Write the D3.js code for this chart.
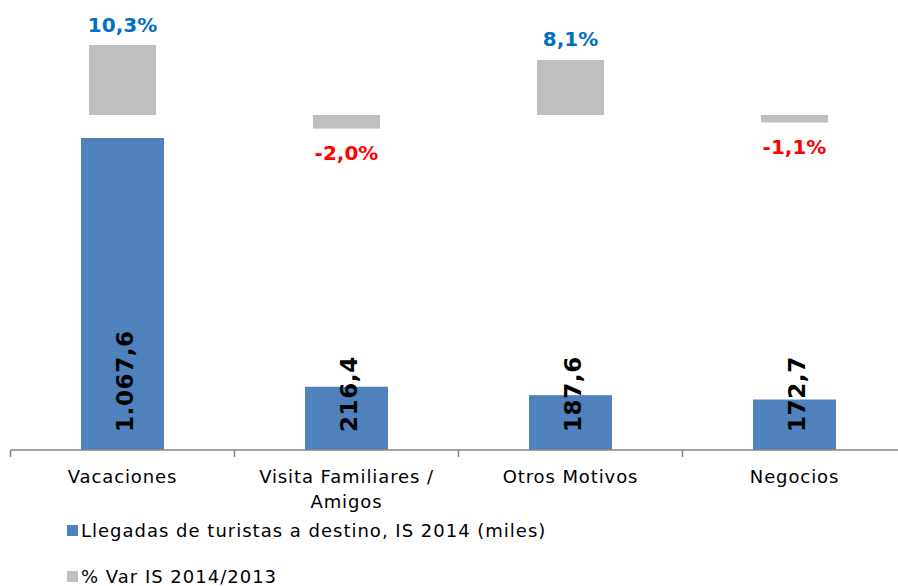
<!DOCTYPE html>
<html>
<head>
<meta charset="utf-8">
<script src="https://cdn.jsdelivr.net/npm/d3@7"></script>
<style>
  body { margin: 0; background: #fff; }
  text { font-family: Verdana, "DejaVu Sans", sans-serif; }
</style>
</head>
<body>
<script>
var categories = ["Vacaciones", "Visita Familiares / Amigos", "Otros Motivos", "Negocios"];
var categoryLines = [["Vacaciones"], ["Visita Familiares /", "Amigos"], ["Otros Motivos"], ["Negocios"]];
var arrivals = [1067.6, 216.4, 187.6, 172.7];
var arrivalLabels = ["1.067,6", "216,4", "187,6", "172,7"];
var variation = [10.3, -2.0, 8.1, -1.1];
var variationLabels = ["10,3%", "-2,0%", "8,1%", "-1,1%"];
var legendLabels = ["Llegadas de turistas a destino, IS 2014 (miles)", "% Var IS 2014/2013"];

var width = 898, height = 586;
var svg = d3.select("body").append("svg").attr("width", width).attr("height", height);

var x = d3.scaleBand().domain(categories).range([10.5, 906.5]);
var baseY = 450;

// blue bars: main axis
var y = d3.scaleLinear().domain([0, 1067.6]).range([baseY, 138]);
// grey bars: secondary, zero at y=115
var y2 = d3.scaleLinear().domain([0, 10.3]).range([115, 45]);

var blueW = 83, greyW = 67;

svg.selectAll(".bar").data(arrivals).enter().append("rect")
  .attr("x", function(d, i){ return x(categories[i]) + x.bandwidth()/2 - blueW/2; })
  .attr("y", function(d){ return y(d); })
  .attr("width", blueW)
  .attr("height", function(d){ return baseY - y(d); })
  .attr("fill", "#4f81bd");

svg.selectAll(".var").data(variation).enter().append("rect")
  .attr("x", function(d, i){ return x(categories[i]) + x.bandwidth()/2 - greyW/2; })
  .attr("y", function(d){ return Math.min(y2(d), y2(0)); })
  .attr("width", greyW)
  .attr("height", function(d){ return Math.abs(y2(d) - y2(0)); })
  .attr("fill", "#bfbfbf");

// value labels inside blue bars (rotated)
svg.selectAll(".blabel").data(arrivals).enter().append("text")
  .attr("transform", function(d, i){
    return "translate(" + (x(categories[i]) + x.bandwidth()/2 + 10) + "," + (baseY - 18) + ") rotate(-90)";
  })
  .attr("font-size", 23).attr("font-weight", "bold").attr("fill", "#000")
  .attr("letter-spacing", 0.6)
  .text(function(d, i){ return arrivalLabels[i]; });

// variation labels
svg.selectAll(".vlabel").data(variation).enter().append("text")
  .attr("x", function(d, i){ return x(categories[i]) + x.bandwidth()/2; })
  .attr("y", function(d){ return d >= 0 ? y2(d) - 13.5 : y2(d) + 31.5; })
  .attr("text-anchor", "middle")
  .attr("font-size", 20).attr("font-weight", "bold")
  .attr("fill", function(d){ return d >= 0 ? "#0070c0" : "#ff0000"; })
  .text(function(d, i){ return variationLabels[i]; });

// axis
var axis = svg.append("g").attr("transform", "translate(0," + baseY + ")");
axis.append("line").attr("x1", 10.5).attr("x2", 906.5).attr("stroke", "#868686").attr("stroke-width", 1.5);
axis.selectAll(".tick").data(categories).enter().append("line")
  .attr("x1", function(d){ return x(d); }).attr("x2", function(d){ return x(d); })
  .attr("y1", 0).attr("y2", 7).attr("stroke", "#868686").attr("stroke-width", 1.5);

axis.selectAll(".clabel").data(categories).enter().append("text")
  .attr("x", function(d){ return x(d) + x.bandwidth()/2; })
  .attr("y", 33)
  .attr("text-anchor", "middle")
  .attr("font-size", 18).attr("letter-spacing", 0.9).attr("fill", "#000")
  .each(function(d, i){
    var t = d3.select(this);
    categoryLines[i].forEach(function(l, j){
      t.append("tspan").attr("x", x(d) + x.bandwidth()/2).attr("dy", j ? 25 : 0).text(l);
    });
  });

// legend
var legendColors = ["#4f81bd", "#bfbfbf"];
var legend = svg.selectAll(".legend").data(legendLabels).enter().append("g")
  .attr("transform", function(d, i){ return "translate(67," + (531 + i*46) + ")"; });
legend.append("rect").attr("x", 0).attr("y", -6).attr("width", 11).attr("height", 11)
  .attr("fill", function(d, i){ return legendColors[i]; });
legend.append("text").attr("x", 14).attr("y", 6).attr("font-size", 18).attr("letter-spacing", 1)
  .attr("fill", "#000")
  .text(function(d){ return d; });
</script>
</body>
</html>
